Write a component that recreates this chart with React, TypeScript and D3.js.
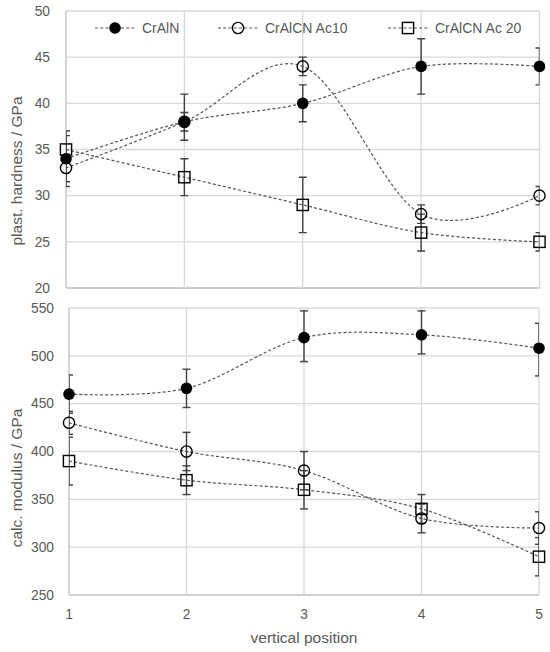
import React from "react";
import * as d3 from "d3";

const positions = [1, 2, 3, 4, 5];
const xTickLabels = ["1", "2", "3", "4", "5"];

const seriesNames = ["CrAlN", "CrAlCN Ac10", "CrAlCN Ac 20"];
const seriesMarkers = ["filled", "circle", "square"];

// plastic hardness / GPa
const hardCrAlN = [34, 38, 40, 44, 44];
const hardCrAlNErrUp = [3, 3, 2, 3, 2];
const hardCrAlNErrDown = [3, 2, 2, 3, 2];
const hardAc10 = [33, 38, 44, 28, 30];
const hardAc10Err = [1.5, 1, 1, 1, 1];
const hardAc20 = [35, 32, 29, 26, 25];
const hardAc20Err = [1.5, 2, 3, 2, 1];
const hardTicks = [20, 25, 30, 35, 40, 45, 50];

// calculated modulus / GPa
const modCrAlN = [460, 466, 519, 522, 508];
const modCrAlNErrUp = [20, 20, 28, 25, 26];
const modCrAlNErrDown = [20, 20, 25, 20, 29];
const modAc10 = [430, 400, 380, 330, 320];
const modAc10Err = [12, 20, 20, 15, 17];
const modAc20 = [390, 370, 360, 340, 290];
const modAc20Err = [25, 15, 20, 15, 20];
const modTicks = [250, 300, 350, 400, 450, 500, 550];

const FONT = "'Liberation Sans', Arial, sans-serif";
const TEXT = "#595959";
const GRID = "#d9d9d9";
const AXIS = "#bfbfbf";
const LINE = "#555555";
const ERR = "#404040";

type Series = { values: number[]; up: number[]; down: number[]; marker: string };

function Marker({ kind, x, y }: { kind: string; x: number; y: number }) {
  if (kind === "filled") return <circle cx={x} cy={y} r={5.8} fill="#000" />;
  if (kind === "circle")
    return <circle cx={x} cy={y} r={5.6} fill="none" stroke="#000" strokeWidth={1.4} />;
  return <rect x={x - 5.6} y={y - 5.6} width={11.2} height={11.2} fill="none" stroke="#000" strokeWidth={1.4} />;
}

function Panel(props: {
  id: string;
  left: number; right: number; top: number; bottom: number;
  domain: [number, number]; ticks: number[]; labelX: number;
  title: string; titleY: number; series: Series[]; showX: boolean;
}) {
  const { id, left, right, top, bottom, domain, ticks, labelX, title, titleY, series, showX } = props;
  const x = d3.scaleLinear().domain([1, 5]).range([left, right]);
  const y = d3.scaleLinear().domain(domain).range([bottom, top]);
  const line = d3
    .line<number>()
    .x((_, i) => x(positions[i]))
    .y((v) => y(v))
    .curve(d3.curveCardinal.tension(0));
  return (
    <g>
      <defs>
        <clipPath id={id}>
          <rect x={left} y={top - 1} width={right - left} height={bottom - top + 2} />
        </clipPath>
      </defs>
      {ticks.map((t) => (
        <line key={"h" + t} x1={left} x2={right} y1={y(t)} y2={y(t)} stroke={t === domain[0] ? AXIS : GRID} strokeWidth={1.3} />
      ))}
      {positions.map((p) => (
        <line key={"v" + p} x1={x(p)} x2={x(p)} y1={top} y2={bottom} stroke={p === 1 ? AXIS : GRID} strokeWidth={1.3} />
      ))}
      {ticks.map((t) => (
        <text key={"t" + t} x={labelX} y={y(t)} dy="0.35em" textAnchor="end" fontSize={13.8} fill={TEXT} fontFamily={FONT}>
          {t}
        </text>
      ))}
      {showX &&
        positions.map((p, i) => (
          <text key={"xt" + p} x={x(p)} y={bottom + 24} textAnchor="middle" fontSize={13.8} fill={TEXT} fontFamily={FONT}>
            {xTickLabels[i]}
          </text>
        ))}
      <text
        transform={`translate(22,${titleY}) rotate(-90)`}
        textAnchor="middle"
        fontSize={15.5}
        fill={TEXT}
        fontFamily={FONT}
      >
        {title}
      </text>
      {series.map((s, si) => (
        <path key={"l" + si} d={line(s.values) || ""} fill="none" stroke={LINE} strokeWidth={1.2} strokeDasharray="3 2.2" />
      ))}
      <g clipPath={`url(#${id})`}>
        {series.map((s, si) =>
          s.values.map((v, i) => {
            const cx = x(positions[i]);
            const y1 = y(v + s.up[i]);
            const y2 = y(v - s.down[i]);
            return (
              <g key={"e" + si + "-" + i} stroke={ERR} strokeWidth={1.4}>
                <line x1={cx} x2={cx} y1={y1} y2={y2} />
                <line x1={cx - 4} x2={cx + 4} y1={y1} y2={y1} />
                <line x1={cx - 4} x2={cx + 4} y1={y2} y2={y2} />
              </g>
            );
          })
        )}
      </g>
      {series.map((s, si) =>
        s.values.map((v, i) => <Marker key={"m" + si + "-" + i} kind={s.marker} x={x(positions[i])} y={y(v)} />)
      )}
    </g>
  );
}

function Legend() {
  const items = [
    { x0: 95, tx: 142 },
    { x0: 218, tx: 265 },
    { x0: 388, tx: 435 },
  ];
  const ly = 28;
  return (
    <g>
      {items.map((it, i) => (
        <g key={i}>
          <line x1={it.x0} x2={it.x0 + 40} y1={ly} y2={ly} stroke={LINE} strokeWidth={1.2} strokeDasharray="3 2.2" />
          <Marker kind={seriesMarkers[i]} x={it.x0 + 20} y={ly} />
          <text x={it.tx} y={ly} dy="0.35em" fontSize={14} fill={TEXT} fontFamily={FONT}>
            {seriesNames[i]}
          </text>
        </g>
      ))}
    </g>
  );
}

export default function App() {
  const hardSeries: Series[] = [
    { values: hardCrAlN, up: hardCrAlNErrUp, down: hardCrAlNErrDown, marker: seriesMarkers[0] },
    { values: hardAc10, up: hardAc10Err, down: hardAc10Err, marker: seriesMarkers[1] },
    { values: hardAc20, up: hardAc20Err, down: hardAc20Err, marker: seriesMarkers[2] },
  ];
  const modSeries: Series[] = [
    { values: modCrAlN, up: modCrAlNErrUp, down: modCrAlNErrDown, marker: seriesMarkers[0] },
    { values: modAc10, up: modAc10Err, down: modAc10Err, marker: seriesMarkers[1] },
    { values: modAc20, up: modAc20Err, down: modAc20Err, marker: seriesMarkers[2] },
  ];
  return (
    <svg width={550} height={652} style={{ position: "absolute", left: 0, top: 0, background: "#fff" }}>
      <rect width={550} height={652} fill="#fff" />
      <Panel
        id="clipTop"
        left={66} right={539.5} top={11} bottom={288}
        domain={[20, 50]} ticks={hardTicks} labelX={50}
        title="plast. hardness / GPa" titleY={171}
        series={hardSeries} showX={false}
      />
      <Legend />
      <Panel
        id="clipBottom"
        left={69} right={539} top={308} bottom={595}
        domain={[250, 550]} ticks={modTicks} labelX={54}
        title="calc. modulus / GPa" titleY={478}
        series={modSeries} showX={true}
      />
      <text x={304} y={643} textAnchor="middle" fontSize={15.5} fill={TEXT} fontFamily={FONT}>
        vertical position
      </text>
    </svg>
  );
}
